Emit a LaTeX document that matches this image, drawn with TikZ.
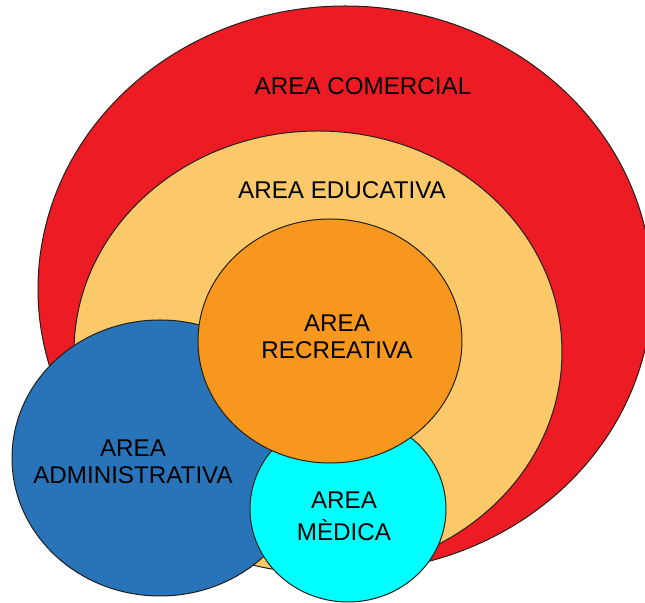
\documentclass[tikz,border=0pt]{standalone}
\usepackage{fontspec}
\setmainfont{Liberation Sans}
\usepackage{tikz}
\usetikzlibrary{shapes.geometric}
\definecolor{comred}{RGB}{237,28,36}
\definecolor{eduyellow}{RGB}{251,201,106}
\definecolor{recorange}{RGB}{247,151,30}
\definecolor{admblue}{RGB}{41,116,184}
\definecolor{medcyan}{RGB}{0,255,255}
\definecolor{edgegray}{RGB}{35,30,25}

\begin{document}
\begin{tikzpicture}[x=0.5pt, y=-0.5pt, font=\fontsize{12.1}{13.5}\selectfont,
  zone/.style={ellipse, draw=edgegray, line width=0.5pt, inner sep=0pt},
  zonelbl/.style={align=center, inner sep=0pt}]
\useasboundingbox (0,0) rectangle (645,603);
% areas, back to front
\node[zone, fill=comred, minimum width=307pt, minimum height=283pt] (comercial) at (345,289) {};
\node[zone, fill=eduyellow, minimum width=244pt, minimum height=221pt] (educativa) at (318,352) {};
\node[zone, fill=admblue, minimum width=148pt, minimum height=138pt] (administrativa) at (160,458) {};
\node[zone, fill=medcyan, minimum width=98pt, minimum height=93pt] (medica) at (348,509) {};
\node[zone, fill=recorange, minimum width=132pt, minimum height=122pt] (recreativa) at (330,341) {};
% labels
\node[zonelbl] (comlbl) at (363,86) {AREA COMERCIAL};
\node[zonelbl] (edulbl) at (342,190) {AREA EDUCATIVA};
\node[zonelbl] (reclbl) at (337,336.5) {AREA\\RECREATIVA};
\node[zonelbl] (admlbl) at (133,461.5) {AREA\\ADMINISTRATIVA};
\node[zonelbl] (medlbl) at (344,516) {AREA\\[2.5pt]MÈDICA};
\end{tikzpicture}
\end{document}
